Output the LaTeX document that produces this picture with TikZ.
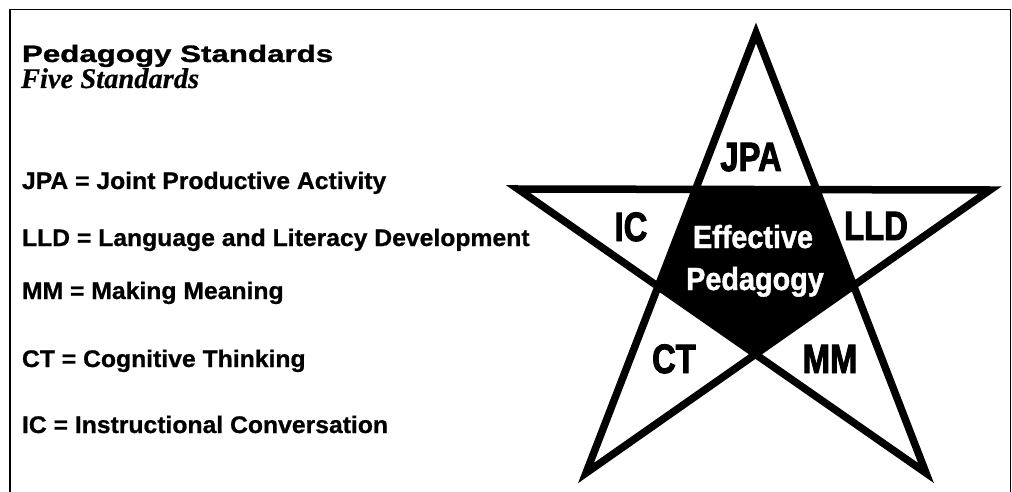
\documentclass[tikz,border=0pt]{standalone}
\usepackage{fontspec}
\newfontfamily\headfont[FakeStretch=1.32,FakeBold=1.2]{Liberation Sans}
\newfontfamily\listfont[FakeStretch=1.03,FakeBold=0.8]{Liberation Sans}
\newfontfamily\subfont[FakeBold=0.5]{Liberation Serif}
\newfontfamily\tipfont[FakeStretch=0.8,FakeBold=2.2]{Liberation Sans}
\newfontfamily\corefont[FakeStretch=0.9,FakeBold=1.2]{Liberation Sans}
\begin{document}
\begin{tikzpicture}[x=1pt, y=-1pt,
        every node/.style={inner sep=0pt, outer sep=0pt},
        item/.style={anchor=base west, font=\listfont\bfseries\fontsize{24}{24}\selectfont},
        tip/.style={anchor=base, font=\tipfont\bfseries\fontsize{41}{41}\selectfont},
        core/.style={anchor=base, text=white, font=\corefont\bfseries\fontsize{32}{32}\selectfont}]
    \useasboundingbox (0,0) rectangle (1012,492);
    \draw[line width=1.6pt] (10,492) -- (10,9.5) -- (1010.5,9.5) -- (1010.5,492);

    % legend
    \node[anchor=base west, font=\headfont\bfseries\fontsize{23.7}{24}\selectfont] (title) at (22,62) {Pedagogy Standards};
    \node[anchor=base west, font=\subfont\bfseries\itshape\fontsize{28.5}{28}\selectfont] (sub) at (21,88) {Five Standards};
    \node[item] (ljpa) at (22,189) {JPA = Joint Productive Activity};
    \node[item] (llld) at (22,246) {LLD = Language and Literacy Development};
    \node[item] (lmm) at (22,299) {MM = Making Meaning};
    \node[item] (lct) at (22,367) {CT = Cognitive Thinking};
    \node[item] (lic) at (22,433) {IC = Instructional Conversation};

    % star
    \coordinate (top) at (756,33);
    \coordinate (lt) at (518,189);
    \coordinate (rt) at (990,190);
    \coordinate (bl) at (586,473);
    \coordinate (br) at (926,473);
    \fill (intersection of top--bl and lt--rt) -- (intersection of top--br and lt--rt)
        -- (intersection of top--br and rt--bl) -- (intersection of lt--br and rt--bl)
        -- (intersection of top--bl and lt--br) -- cycle;
    \draw[line width=7.5pt, line join=miter] (top) -- (bl) -- (rt) -- (lt) -- (br) -- cycle;

    \node[tip] (jpa) at (751,171) {JPA};
    \node[tip] (ic) at (631,241) {IC};
    \node[tip] (lld) at (876,240) {LLD};
    \node[tip] (ct) at (674,373) {CT};
    \node[tip] (mm) at (830,373) {MM};
    \node[core] (eff) at (753,248) {Effective};
    \node[core] (ped) at (755,290) {Pedagogy};
\end{tikzpicture}
\end{document}
